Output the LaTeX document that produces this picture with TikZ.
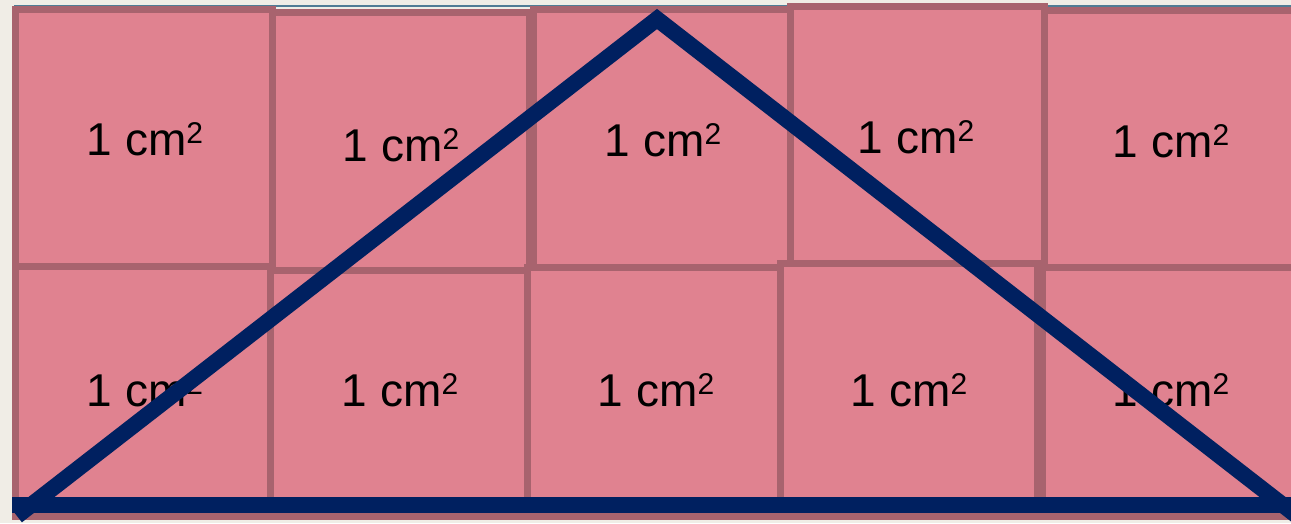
\documentclass[tikz,border=0pt]{standalone}
\usepackage{fontspec}
\setmainfont{Liberation Sans}
\definecolor{bgc}{HTML}{F0EDE6}
\definecolor{tilefill}{HTML}{E08290}
\definecolor{tileedge}{HTML}{A8636E}
\definecolor{navy}{HTML}{002060}
\definecolor{thinblue}{HTML}{507C95}
\newcommand{\sqcm}{1 cm\raisebox{12pt}{\fontsize{30}{30}\selectfont 2}}
\tikzset{
  tile/.style={fill=tilefill, draw=tileedge, line width=7pt},
  lbl/.style={anchor=base, inner sep=0pt, font=\fontsize{46}{46}\selectfont},
  tri/.style={draw=navy, line width=16pt, line join=miter, miter limit=10, line cap=butt}
}
\begin{document}
\begin{tikzpicture}[x=1pt,y=-1pt]
\useasboundingbox (0,0) rectangle (1291,523);
\fill[bgc] (0,0) rectangle (1291,523);
\draw[thinblue, line width=2pt] (14,6) -- (1291,6);
% top row
\draw[tile] (15.5,9.5) rectangle (272.5,266.5);
\draw[tile] (272.5,12.5) rectangle (529,270);
\draw[tile] (533,9.5) rectangle (790.5,267);
\draw[tile] (790.5,6.5) rectangle (1044,263);
\draw[tile] (1044,10.5) rectangle (1310,267);
% bottom row
\draw[tile] (15.5,266.5) rectangle (270.5,516);
\draw[tile] (270.5,270) rectangle (527.5,516);
\draw[tile] (527.5,267) rectangle (780.5,516);
\draw[tile] (780.5,263) rectangle (1037,516);
\draw[tile] (1042,267) rectangle (1310,516);
% labels
\node[lbl] (t1) at (145,155) {\sqcm};
\node[lbl] (t2) at (401,161) {\sqcm};
\node[lbl] (t3) at (663,156) {\sqcm};
\node[lbl] (t4) at (916,153) {\sqcm};
\node[lbl] (t5) at (1171,157) {\sqcm};
\node[lbl] (b1) at (145,406) {\sqcm};
\node[lbl] (b2) at (400,406) {\sqcm};
\node[lbl] (b3) at (656,406) {\sqcm};
\node[lbl] (b4) at (909,406) {\sqcm};
\node[lbl] (b5) at (1171,406) {\sqcm};
% triangle
\coordinate (bl) at (12,505);
\coordinate (br) at (1300,505);
\coordinate (lv) at (17,516);
\coordinate (apex) at (657,19);
\coordinate (rv) at (1297,516);
\draw[tri] (bl) -- (br);
\draw[tri] (lv) -- (apex) -- (rv);
\end{tikzpicture}
\end{document}
